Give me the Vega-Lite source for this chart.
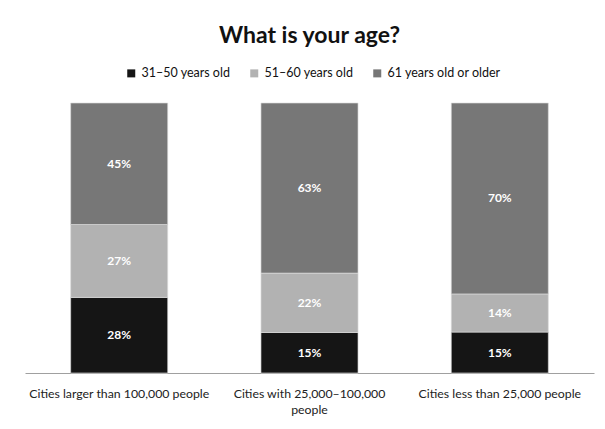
{
  "$schema": "https://vega.github.io/schema/vega-lite/v6.json",
  "width": 569,
  "height": 270,
  "autosize": "none",
  "padding": {"left": 25, "top": 103, "right": 11, "bottom": 56},
  "background": "white",
  "title": {
    "text": "What is your age?",
    "font": "Lato",
    "fontSize": 23,
    "fontWeight": "bold",
    "color": "#111111",
    "anchor": "middle",
    "offset": 19
  },
  "data": {
    "values": [
      {"city": "Cities larger than 100,000 people", "age": "31–50 years old", "ord": 1, "value": 0.28},
      {"city": "Cities larger than 100,000 people", "age": "51–60 years old", "ord": 2, "value": 0.27},
      {"city": "Cities larger than 100,000 people", "age": "61 years old or older", "ord": 3, "value": 0.45},
      {"city": "Cities with 25,000–100,000 people", "age": "31–50 years old", "ord": 1, "value": 0.15},
      {"city": "Cities with 25,000–100,000 people", "age": "51–60 years old", "ord": 2, "value": 0.22},
      {"city": "Cities with 25,000–100,000 people", "age": "61 years old or older", "ord": 3, "value": 0.63},
      {"city": "Cities less than 25,000 people", "age": "31–50 years old", "ord": 1, "value": 0.15},
      {"city": "Cities less than 25,000 people", "age": "51–60 years old", "ord": 2, "value": 0.14},
      {"city": "Cities less than 25,000 people", "age": "61 years old or older", "ord": 3, "value": 0.70}
    ]
  },
  "transform": [
    {"stack": "value", "groupby": ["city"], "sort": [{"field": "ord", "order": "ascending"}], "offset": "normalize", "as": ["y0", "y1"]}
  ],
  "encoding": {
    "x": {
      "field": "city",
      "type": "nominal",
      "sort": ["Cities larger than 100,000 people", "Cities with 25,000–100,000 people", "Cities less than 25,000 people"],
      "scale": {"paddingInner": 0.49, "paddingOuter": 0.24},
      "axis": {
        "title": null,
        "labelAngle": 0,
        "labelFont": "Lato",
        "labelFontSize": 12.3,
        "labelColor": "#222222",
        "labelPadding": 14,
        "labelLimit": 300,
        "labelLineHeight": 16,
        "ticks": false,
        "domainColor": "#a0a0a0",
        "domainWidth": 1,
        "labelExpr": "datum.label == 'Cities with 25,000–100,000 people' ? ['Cities with 25,000–100,000', 'people'] : datum.label"
      }
    }
  },
  "layer": [
    {
      "mark": {"type": "bar", "stroke": "#dcdcdc", "strokeWidth": 0.8, "strokeOpacity": 0.8},
      "encoding": {
        "y": {
          "field": "y0",
          "type": "quantitative",
          "scale": {"domain": [0, 1]},
          "axis": null
        },
        "y2": {"field": "y1"},
        "color": {
          "field": "age",
          "type": "nominal",
          "scale": {
            "domain": ["31–50 years old", "51–60 years old", "61 years old or older"],
            "range": ["#151515", "#b2b2b2", "#777777"]
          },
          "legend": {
            "title": null,
            "orient": "none",
            "direction": "horizontal",
            "legendX": 100,
            "legendY": -36,
            "symbolType": "square",
            "symbolSize": 64,
            "symbolStrokeWidth": 0,
            "labelFont": "Lato",
            "labelFontSize": 12.5,
            "labelColor": "#111111",
            "columnPadding": 17,
            "labelOffset": 4
          }
        }
      }
    },
    {
      "transform": [
        {"fold": ["y0", "y1"], "as": ["k", "v"]},
        {"aggregate": [{"op": "mean", "field": "v", "as": "mid"}, {"op": "max", "field": "value", "as": "pct"}], "groupby": ["city", "age"]}
      ],
      "mark": {"type": "text", "font": "Lato", "fontSize": 12, "fontWeight": "bold", "color": "white", "baseline": "middle"},
      "encoding": {
        "y": {"field": "mid", "type": "quantitative", "scale": {"domain": [0, 1]}, "axis": null},
        "text": {"field": "pct", "type": "quantitative", "format": ".0%"}
      }
    }
  ],
  "config": {
    "view": {"stroke": null}
  }
}
